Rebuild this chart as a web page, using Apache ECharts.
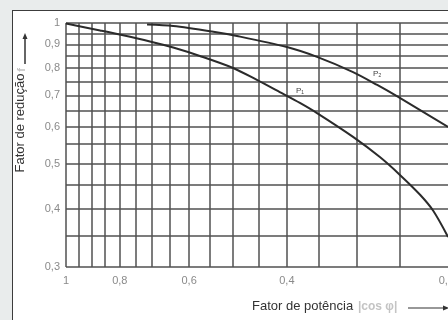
<!DOCTYPE html>
<html><head><meta charset="utf-8">
<script src="https://cdn.jsdelivr.net/npm/echarts@6/dist/echarts.min.js"></script>
<style>
html,body{margin:0;padding:0;background:#e9ecec;width:448px;height:320px;overflow:hidden}
#frame{position:absolute;left:12px;top:10px;width:460px;height:330px;background:#fff;border:1.5px solid #3c3c3c;box-sizing:border-box}
#c{position:absolute;left:0;top:0;width:448px;height:320px}
</style>
</head><body><div id="frame"></div><div id="c"></div>
<script>
// ---- data ----
const xTickValues = [1,0.95,0.9,0.85,0.8,0.75,0.7,0.65,0.6,0.55,0.5,0.45,0.4,0.35,0.3,0.25,0.2];
const xLabelValues = [1,0.8,0.6,0.4,0.2];
const yTickValues = [1,0.95,0.9,0.85,0.8,0.75,0.7,0.65,0.6,0.55,0.5,0.45,0.4,0.35,0.3];
const yLabelValues = [1,0.9,0.8,0.7,0.6,0.5,0.4,0.3];

const p1CosPhi = [1.0, 0.868, 0.793, 0.706, 0.641, 0.574, 0.50, 0.453, 0.412, 0.379, 0.353, 0.304, 0.272, 0.250, 0.230, 0.218, 0.205];
const p1F      = [0.9975, 0.964, 0.9425, 0.913, 0.886, 0.850, 0.801, 0.755, 0.711, 0.674, 0.641, 0.570, 0.516, 0.472, 0.428, 0.396, 0.348];
const p2CosPhi = [0.7145, 0.641, 0.546, 0.492, 0.40, 0.353, 0.304, 0.275, 0.253, 0.205];
const p2F      = [0.9926, 0.9853, 0.959, 0.938, 0.888, 0.846, 0.785, 0.7366, 0.696, 0.599];
const curveNames = ['P₁', 'P₂'];
const labelAt = [9, 7];

function fmt(v){ return String(Math.round(v*100)/100).replace('.', ','); }
const labelFont = 'Liberation Sans, Arial, sans-serif';
function build(xs, ys, name, li, dist){
  return xs.map((x,i)=> i===li
    ? {value:[x, ys[i]], label:{show:true, formatter:name, position:'top', distance:dist, color:'#444', fontSize:8, fontFamily:labelFont}}
    : [x, ys[i]]);
}

const chart = echarts.init(document.getElementById('c'), null, {renderer:'canvas'});
const lineStyle = {color:'#2b2b2b', width:2};
const grid = {color:'#505050', width:1.5};

function curve(xs, ys, i, dist){
  return {type:'line', name:curveNames[i], smooth:0.3, symbol:'circle', symbolSize:1, showSymbol:true, showAllSymbol:true,
    itemStyle:{color:'rgba(0,0,0,0)'}, lineStyle:lineStyle, data:build(xs, ys, curveNames[i], labelAt[i], dist), z:5};
}

chart.setOption({
  backgroundColor:'transparent',
  animation:false,
  grid:{left:66, top:23, right:-6, bottom:53, outerBoundsMode:'none', containLabel:false},
  xAxis:{
    type:'log', logBase:10, min:0.2, max:1, inverse:true,
    axisLine:{show:false},
    axisTick:{show:false, customValues:xTickValues},
    splitLine:{show:true, lineStyle:grid},
    axisLabel:{customValues:xLabelValues, formatter:fmt, color:'#8a8a8a', fontSize:11, margin:8, fontFamily:labelFont, alignMaxLabel:'right'}
  },
  yAxis:{
    type:'log', logBase:10, min:0.3, max:1,
    axisLine:{show:false},
    axisTick:{show:false, customValues:yTickValues},
    splitLine:{show:true, lineStyle:grid},
    axisLabel:{customValues:yLabelValues, formatter:fmt, color:'#8a8a8a', fontSize:11, margin:6, fontFamily:labelFont}
  },
  series:[
    curve(p1CosPhi, p1F, 0, 8),
    curve(p2CosPhi, p2F, 1, 7)
  ],
  graphic:[
    {type:'text', x:20, y:123, rotation:Math.PI/2, style:{text:'Fator de redução', font:'13px Liberation Sans, Arial, sans-serif', fill:'#333', textAlign:'center', textVerticalAlign:'middle'}},
    {type:'text', x:22, y:70, rotation:Math.PI/2, style:{text:'f', font:'bold 11px Liberation Sans, Arial, sans-serif', fill:'#c4c4c4', textAlign:'center', textVerticalAlign:'middle'}},
    {type:'line', shape:{x1:25, y1:64, x2:25, y2:38}, style:{stroke:'#333', lineWidth:1.5}},
    {type:'polygon', shape:{points:[[22.5,39],[27.5,39],[25,33]]}, style:{fill:'#333'}},
    {type:'text', x:252, y:306, style:{text:'Fator de potência', font:'13px Liberation Sans, Arial, sans-serif', fill:'#333', textAlign:'left', textVerticalAlign:'middle'}},
    {type:'text', x:358, y:307, style:{text:'|cos φ|', font:'bold 12px Liberation Sans, Arial, sans-serif', fill:'#c4c4c4', textAlign:'left', textVerticalAlign:'middle'}},
    {type:'line', shape:{x1:408, y1:308, x2:444, y2:308}, style:{stroke:'#333', lineWidth:1.2}},
    {type:'polygon', shape:{points:[[443,305.5],[443,310.5],[449,308]]}, style:{fill:'#333'}}
  ]
});
</script>
</body></html>
